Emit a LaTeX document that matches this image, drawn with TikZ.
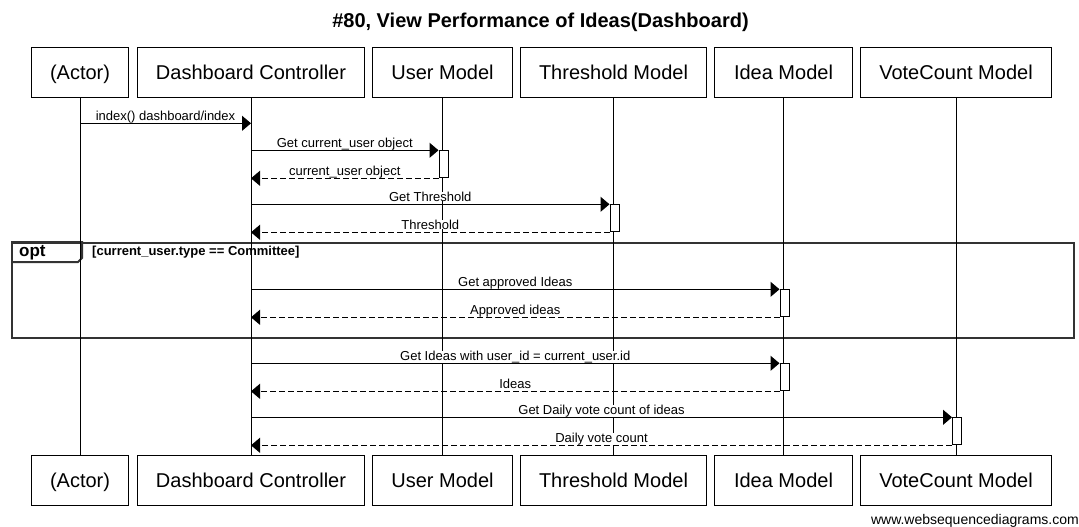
\documentclass[tikz,border=0pt]{standalone}
\usepackage{fontspec}
\setmainfont{Liberation Sans}
\usepackage{tikz}
\usetikzlibrary{arrows.meta,positioning,calc}

\begin{document}
\begin{tikzpicture}[
    x=1pt, y=-1pt,
    node distance=7pt,
    participant/.style={rectangle, draw=black, line width=1pt, minimum height=50pt, text height=14.5pt, text depth=0pt, inner sep=0pt, font=\fontsize{20}{24}\selectfont},
    lifeline/.style={line width=1pt},
    activation/.style={rectangle, draw=black, fill=white, line width=1pt, minimum width=9pt, inner sep=0pt, anchor=north, xshift=1pt},
    msg/.style={-{Triangle[length=9pt,width=15pt]}, line width=1pt},
    reply/.style={msg, dash pattern=on 6pt off 3pt},
    msglabel/.style={fill=white, inner xsep=1pt, inner ysep=0pt, anchor=base, yshift=3pt, font=\fontsize{13}{15}\selectfont},
    optframe/.style={rectangle, draw=black!80, line width=2pt, inner sep=0pt}
]
    \useasboundingbox (0,0) rectangle (1079,527);

    % Title
    \node[anchor=base, font=\bfseries\fontsize{20}{24}\selectfont] (title) at (540.5,28) {\#80, View Performance of Ideas(Dashboard)};

    % Participants
    \node[participant, minimum width=97pt, anchor=north west] (actor) at (31,47) {(Actor)};
    \node[participant, minimum width=227pt, right=8pt of actor] (ctrl) {Dashboard Controller};
    \node[participant, minimum width=140pt, right=of ctrl] (user) {User Model};
    \node[participant, minimum width=186pt, right=of user] (threshold) {Threshold Model};
    \node[participant, minimum width=138pt, right=of threshold] (idea) {Idea Model};
    \node[participant, minimum width=191pt, right=of idea] (votecount) {VoteCount Model};

    \node[participant, minimum width=97pt, below=357pt of actor] (actorB) {(Actor)};
    \node[participant, minimum width=227pt, below=357pt of ctrl] (ctrlB) {Dashboard Controller};
    \node[participant, minimum width=140pt, below=357pt of user] (userB) {User Model};
    \node[participant, minimum width=186pt, below=357pt of threshold] (thresholdB) {Threshold Model};
    \node[participant, minimum width=138pt, below=357pt of idea] (ideaB) {Idea Model};
    \node[participant, minimum width=191pt, below=357pt of votecount] (votecountB) {VoteCount Model};

    % opt fragment
    \node[optframe, anchor=north west, minimum width=1062pt, minimum height=95pt] (opt) at (11,242) {};
    \draw[draw=black!80, line width=2pt] (opt.north west) -- ++(71,0) -- ++(0,16) -- ++(-4,4) -- ++(-67,0);
    \node[anchor=base west, inner sep=0pt, font=\bfseries\fontsize{17}{20}\selectfont] (optlabel) at (19,256.5) {opt};
    \node[anchor=base west, inner sep=0pt, font=\bfseries\fontsize{13}{15}\selectfont] (guard) at (92,255.5) {[current\_user.type == Committee]};

    % Lifelines
    \draw[lifeline] (actor) -- (actorB);
    \draw[lifeline] (ctrl) -- (ctrlB);
    \draw[lifeline] (user) -- (userB);
    \draw[lifeline] (threshold) -- (thresholdB);
    \draw[lifeline] (idea) -- (ideaB);
    \draw[lifeline] (votecount) -- (votecountB);

    % Activations
    \node[activation, minimum height=27pt] (actUser) at (user |- 0,150.3) {};
    \node[activation, minimum height=27pt] (actThreshold) at (threshold |- 0,204.3) {};
    \node[activation, minimum height=27pt] (actIdeaA) at (idea |- 0,289.3) {};
    \node[activation, minimum height=27pt] (actIdeaB) at (idea |- 0,363.3) {};
    \node[activation, minimum height=27pt] (actVote) at (votecount |- 0,417.3) {};

    % Messages
    \draw[msg] (actor |- 0,123.3) -- (ctrl |- 0,123.3) node[msglabel, midway] {index() dashboard/index};
    \draw[msg] (ctrl |- actUser.north) -- (actUser.north west) node[msglabel, midway] {Get current\_user object};
    \draw[reply] (actUser.south west) -- (ctrl |- actUser.south) node[msglabel, midway] {current\_user object};
    \draw[msg] (ctrl |- actThreshold.north) -- (actThreshold.north west) node[msglabel, midway] {Get Threshold};
    \draw[reply] (actThreshold.south west) -- (ctrl |- actThreshold.south) node[msglabel, midway] {Threshold};
    \draw[msg] (ctrl |- actIdeaA.north) -- (actIdeaA.north west) node[msglabel, midway] {Get approved Ideas};
    \draw[reply] (actIdeaA.south west) -- (ctrl |- actIdeaA.south) node[msglabel, midway] {Approved ideas};
    \draw[msg] (ctrl |- actIdeaB.north) -- (actIdeaB.north west) node[msglabel, midway] {Get Ideas with user\_id = current\_user.id};
    \draw[reply] (actIdeaB.south west) -- (ctrl |- actIdeaB.south) node[msglabel, midway] {Ideas};
    \draw[msg] (ctrl |- actVote.north) -- (actVote.north west) node[msglabel, midway] {Get Daily vote count of ideas};
    \draw[reply] (actVote.south west) -- (ctrl |- actVote.south) node[msglabel, midway] {Daily vote count};

    % Footer
    \node[anchor=base east, inner sep=0pt, font=\fontsize{14}{16}\selectfont] (footer) at (1079,524) {www.websequencediagrams.com};
\end{tikzpicture}
\end{document}
